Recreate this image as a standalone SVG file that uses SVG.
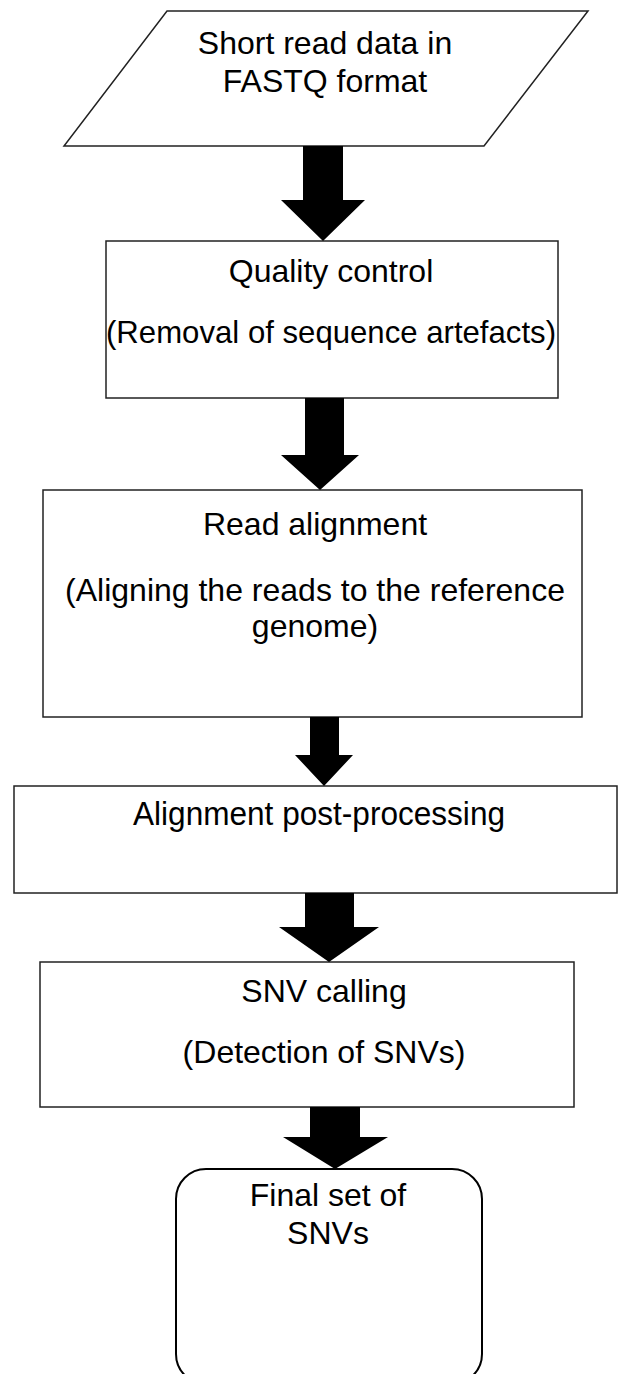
<svg xmlns="http://www.w3.org/2000/svg" width="618" height="1374" viewBox="0 0 618 1374">
<style>
.box{fill:#fff;stroke:#222;stroke-width:1.5}
.rbox{fill:#fff;stroke:#000;stroke-width:2}
.t{font-family:"Liberation Sans",Arial,sans-serif;font-size:32px;fill:#000;text-anchor:middle}
.arrow{fill:#000;stroke:none}
</style>
<rect width="618" height="1374" fill="#fff"/>
<g id="n1">
<polygon class="box" points="167,11 588,11 484,146 64,146"/>
<text class="t" x="325" y="54">Short read data in</text>
<text class="t" x="325" y="92">FASTQ format</text>
</g>
<g id="n2">
<rect class="box" x="106" y="241" width="452" height="157"/>
<text class="t" x="331" y="282">Quality control</text>
<text class="t" x="331" y="343" textLength="450" lengthAdjust="spacingAndGlyphs">(Removal of sequence artefacts)</text>
</g>
<g id="n3">
<rect class="box" x="43" y="490" width="539" height="227"/>
<text class="t" x="315" y="535">Read alignment</text>
<text class="t" x="315" y="601">(Aligning the reads to the reference</text>
<text class="t" x="315" y="637">genome)</text>
</g>
<g id="n4">
<rect class="box" x="14" y="786" width="603" height="107"/>
<text class="t" x="319" y="825" style="font-size:34px" textLength="372" lengthAdjust="spacingAndGlyphs">Alignment post-processing</text>
</g>
<g id="n5">
<rect class="box" x="40" y="962" width="534" height="145"/>
<text class="t" x="324" y="1002">SNV calling</text>
<text class="t" x="324" y="1063">(Detection of SNVs)</text>
</g>
<g id="n6">
<rect class="rbox" x="176" y="1169" width="306" height="215" rx="30" ry="30"/>
<text class="t" x="328" y="1206">Final set of</text>
<text class="t" x="328" y="1244">SNVs</text>
</g>
<g id="connectors">
<polygon class="arrow" points="303,146 343,146 343,200 365,200 323,241 281,200 303,200"/>
<polygon class="arrow" points="305,398 344,398 344,455 359,455 320,490 281,455 305,455"/>
<polygon class="arrow" points="310,717 339,717 339,755 353,755 324,786 295,755 310,755"/>
<polygon class="arrow" points="305,893 354,893 354,927 379,927 329,962 279,927 305,927"/>
<polygon class="arrow" points="310,1107 360,1107 360,1137 388,1137 335,1169 283,1137 310,1137"/>
</g>
</svg>
